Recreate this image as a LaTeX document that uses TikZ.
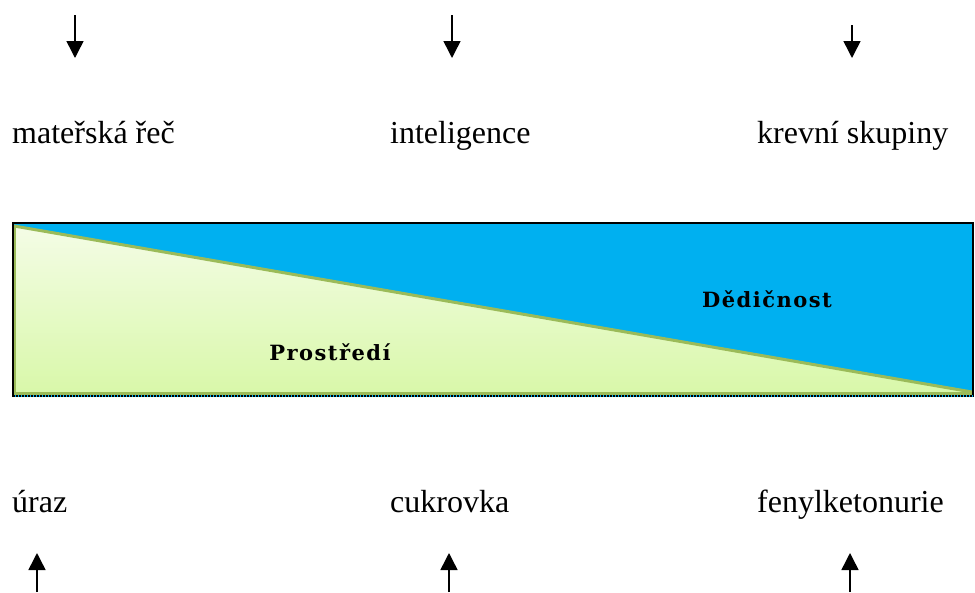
\documentclass[tikz,border=0pt]{standalone}
\usepackage{fontspec}
\setmainfont{Liberation Serif}
\newfontfamily\labelfont[LetterSpace=7]{DejaVu Serif}
\usetikzlibrary{arrows.meta}
\definecolor{heredblue}{HTML}{00B0F0}
\definecolor{envtop}{HTML}{F4FCE6}
\definecolor{envbot}{HTML}{D8F8A8}
\definecolor{olive}{HTML}{9BBB59}
\tikzset{
  factor/.style={anchor=base west, inner sep=0pt, font=\fontsize{32}{35}\selectfont},
  arealabel/.style={inner sep=0pt, font=\labelfont\bfseries\fontsize{21}{25}\selectfont},
  pointer/.style={line width=1.5pt, -{Triangle[width=17pt,length=17pt]}},
}
\begin{document}
\begin{tikzpicture}[x=1pt,y=-1pt]
\useasboundingbox (0,0) rectangle (975,592);
% band
\fill[heredblue] (13,223) rectangle (973,397);
\shade[top color=envtop, bottom color=envbot] (13,226) -- (973,393) -- (973,397) -- (13,397) -- cycle;
\draw[olive, line width=3pt] (14,226) -- (972,392);
\draw[olive, line width=3pt] (14.5,226) -- (14.5,393) -- (972,393);
\draw[black, line width=1.6pt] (13,397) -- (13,223) -- (973,223) -- (973,397);
\draw[heredblue, line width=2pt] (13,396) -- (973,396);
\draw[black, line width=2pt, dash pattern=on 2pt off 1pt] (13,396) -- (973,396);
% area labels
\node[arealabel] (env) at (330,352) {Prostředí};
\node[arealabel] (her) at (767,299) {Dědičnost};
% top factors
\node[factor] (t1) at (12,143) {mateřská řeč};
\node[factor] (t2) at (390,143) {inteligence};
\node[factor] (t3) at (757,143) {krevní skupiny};
% bottom factors
\node[factor] (b1) at (12,512) {úraz};
\node[factor] (b2) at (390,512) {cukrovka};
\node[factor] (b3) at (757,512) {fenylketonurie};
% arrow coordinates
\coordinate (a1s) at (75,15);  \coordinate (a1e) at (75,58);
\coordinate (a2s) at (452,15); \coordinate (a2e) at (452,58);
\coordinate (a3s) at (852,25); \coordinate (a3e) at (852,58);
\coordinate (c1s) at (37,592);  \coordinate (c1e) at (37,553);
\coordinate (c2s) at (449,592); \coordinate (c2e) at (449,553);
\coordinate (c3s) at (850,592); \coordinate (c3e) at (850,553);
\draw[pointer] (a1s) -- (a1e);
\draw[pointer] (a2s) -- (a2e);
\draw[pointer] (a3s) -- (a3e);
\draw[pointer] (c1s) -- (c1e);
\draw[pointer] (c2s) -- (c2e);
\draw[pointer] (c3s) -- (c3e);
\end{tikzpicture}
\end{document}
